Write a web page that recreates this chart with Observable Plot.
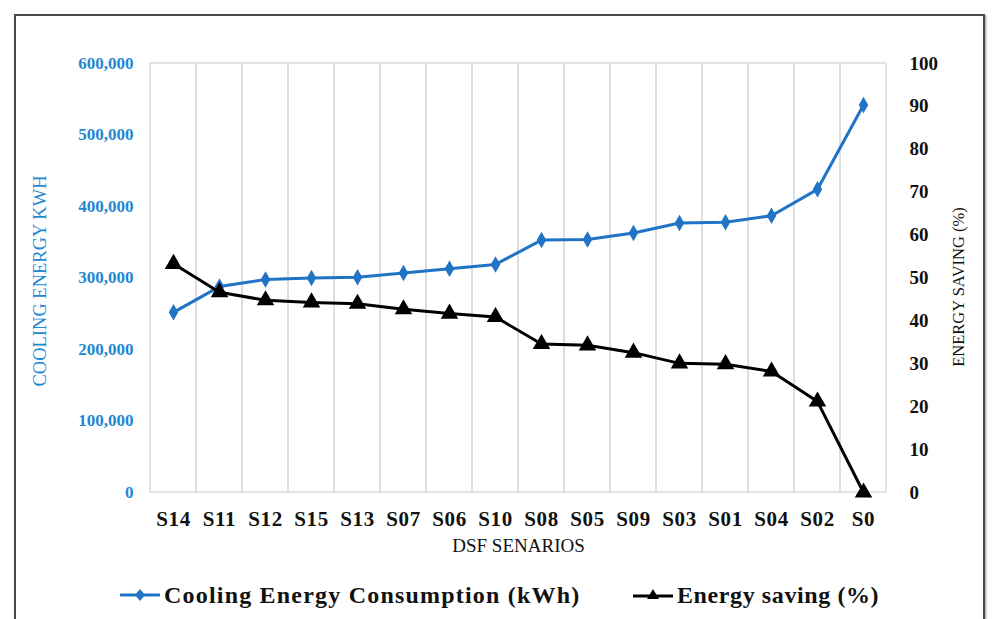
<!DOCTYPE html>
<html>
<head>
<meta charset="utf-8">
<script src="https://cdn.jsdelivr.net/npm/d3@7"></script>
<script src="https://cdn.jsdelivr.net/npm/@observablehq/plot@0.6"></script>
<style>
  html, body { margin: 0; padding: 0; background: #fff; }
  #wrap { position: relative; width: 993px; height: 619px; overflow: hidden; }
  #box {
    position: absolute; left: 14px; top: 14px; width: 971px; height: 640px;
    border: 2px solid #4a4a4a; box-shadow: 1px 1px 2px #999; box-sizing: border-box;
  }
  #chart { position: absolute; left: 0; top: 0; }
  #chart .xticks text { letter-spacing: 0.6px; }
  #legend {
    position: absolute; top: 579px; left: 0; width: 993px; height: 32px;
    font-family: "Liberation Serif", serif; font-weight: bold; font-size: 24px;
    letter-spacing: 1.2px; color: #111;
  }
  .item { position: absolute; top: 0; display: flex; align-items: center; white-space: nowrap; }
  .item svg { margin-right: 2px; }
</style>
</head>
<body>
<div id="wrap">
  <div id="box"></div>
  <div id="chart"></div>
  <div id="legend"></div>
</div>
<script>
// DSF scenarios, ordered by cooling demand
const scenarios = ["S14","S11","S12","S15","S13","S07","S06","S10","S08","S05","S09","S03","S01","S04","S02","S0"];
// Cooling energy consumption (kWh)
const coolingKWh = [252000, 288000, 298000, 300000, 301000, 307000, 313000, 319000, 353000, 354000, 363000, 377000, 378000, 387000, 424000, 542000];
// Energy saving relative to the base case (%)
const savingPct = [53.3, 46.7, 44.8, 44.3, 44.0, 42.7, 41.7, 40.9, 34.6, 34.3, 32.6, 30.1, 29.9, 28.2, 21.2, 0];

const leftTicks = [0, 100000, 200000, 300000, 400000, 500000, 600000];
const rightTicks = [0, 10, 20, 30, 40, 50, 60, 70, 80, 90, 100];

const BLUE = "#2173c6";
const BLUE_TEXT = "#1f88d2";
const K = 6000; // 1 % on the right axis = 6,000 kWh on the left axis

const rows = scenarios.map((s, i) => ({s, cooling: coolingKWh[i], saving: savingPct[i]}));

const chart = Plot.plot({
  width: 993,
  height: 619,
  marginLeft: 148,
  marginRight: 105,
  marginTop: 63,
  marginBottom: 127,
  style: {background: "transparent", fontFamily: "'Liberation Serif', serif"},
  x: {type: "band", domain: scenarios, padding: 0, label: null},
  y: {domain: [0, 600000], label: null},
  marks: [
    // category cells give the light vertical grid and the plot-area outline
    Plot.barY(scenarios, {x: d => d, y1: 0, y2: 600000, fill: "none", stroke: "#dcdcdc", strokeWidth: 1.5}),
    Plot.axisY({ticks: leftTicks, tickSize: 0, tickPadding: 15, tickFormat: d3.format(","),
      fill: BLUE_TEXT, fontSize: 17, fontWeight: "bold", label: null}),
    Plot.axisY({anchor: "right", ticks: rightTicks.map(v => v * K), tickSize: 0, tickPadding: 21,
      tickFormat: d => Math.round(d / K), fill: "#111", fontSize: 19, fontWeight: "bold", label: null}),
    Plot.axisX({tickSize: 0, tickPadding: 19, fill: "#111", fontSize: 21, fontWeight: "bold", label: null, className: "xticks"}),
    Plot.text(["COOLING ENERGY KWH"], {frameAnchor: "left", textAnchor: "middle", dx: -108, dy: 3, rotate: -90, fill: BLUE_TEXT, fontSize: 18.5}),
    Plot.text(["ENERGY SAVING (%)"], {frameAnchor: "right", textAnchor: "middle", dx: 70, dy: 9, rotate: -90, fill: "#111", fontSize: 16.5}),
    Plot.text(["DSF SENARIOS"], {frameAnchor: "bottom", dy: 59, fill: "#111", fontSize: 19}),
    Plot.line(rows, {x: "s", y: "cooling", stroke: BLUE, strokeWidth: 3}),
    Plot.dot(rows, {x: "s", y: "cooling", symbol: "diamond", r: 5, fill: BLUE}),
    Plot.line(rows, {x: "s", y: d => d.saving * K, stroke: "#000", strokeWidth: 3}),
    Plot.dot(rows, {x: "s", y: d => d.saving * K, symbol: "triangle", r: 6.5, fill: "#000"})
  ]
});
document.getElementById("chart").appendChild(chart);

// legend below the plot
const legend = document.getElementById("legend");
const entries = [
  {label: "Cooling Energy Consumption (kWh)", color: BLUE, shape: "diamond", left: 120, spacing: 1.2},
  {label: "Energy saving (%)", color: "#000", shape: "triangle", left: 633, spacing: 0.6}
];
for (const e of entries) {
  const item = document.createElement("div");
  item.className = "item";
  item.style.left = e.left + "px";
  item.style.letterSpacing = e.spacing + "px";
  const marker = e.shape === "diamond"
    ? `<path d="M20,10 L25,16 L20,22 L15,16 Z" fill="${e.color}"/>`
    : `<path d="M20,10 L26,20 L14,20 Z" fill="${e.color}"/>`;
  const y = e.shape === "diamond" ? 16 : 17;
  item.innerHTML = `<svg width="42" height="32"><line x1="0" x2="40" y1="${y}" y2="${y}" stroke="${e.color}" stroke-width="3"/>${marker}</svg><span>${e.label}</span>`;
  legend.appendChild(item);
}
</script>
</body>
</html>
